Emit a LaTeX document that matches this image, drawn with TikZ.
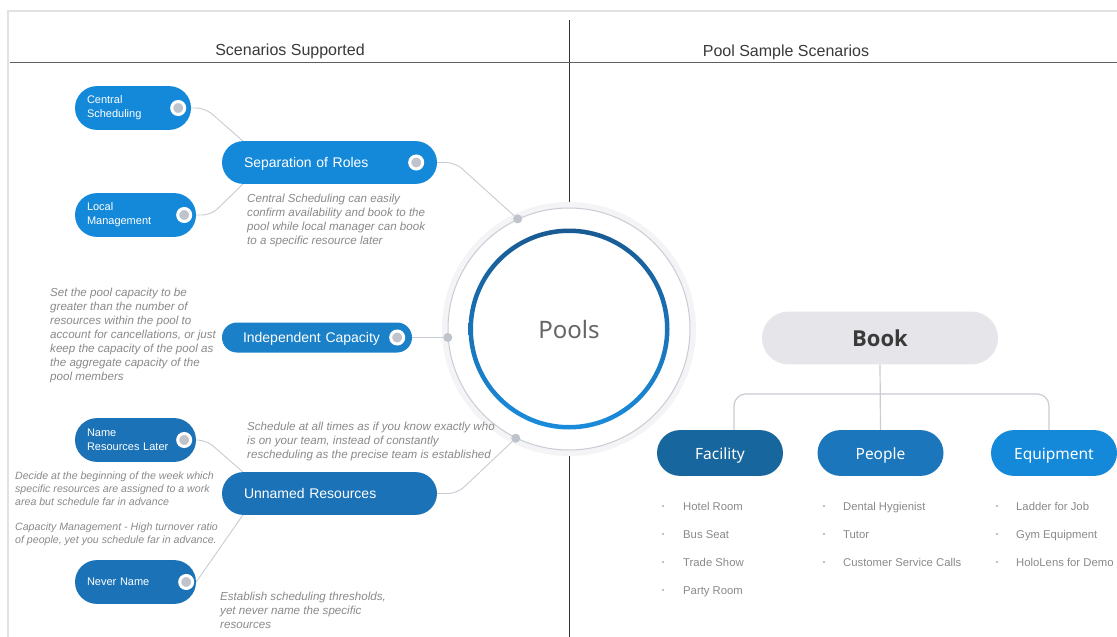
\documentclass[tikz,border=0pt]{standalone}
\usepackage{fontspec}
\setmainfont{Liberation Sans}
\newfontfamily\uifont{Noto Sans}
\newfontfamily\bookfont{Open Sans}
\usetikzlibrary{backgrounds}
\definecolor{brightblue}{HTML}{1589D9}
\definecolor{midblue}{HTML}{1A80C8}
\definecolor{deepblue}{HTML}{1B72B7}
\definecolor{darkblue}{HTML}{18669E}
\definecolor{peopleblue}{HTML}{1B76BB}
\definecolor{ringtop}{HTML}{195A92}
\definecolor{ringbottom}{HTML}{1A8CDC}
\definecolor{linkgray}{HTML}{C8CCD3}
\definecolor{dotgray}{HTML}{BFC3CB}
\definecolor{notegray}{HTML}{8A8A8A}
\definecolor{bookgray}{HTML}{E6E6EA}
\definecolor{framegray}{HTML}{E2E2E2}
\definecolor{glowgray}{HTML}{F4F4F7}
\definecolor{titlegray}{HTML}{3A3A3A}
\begin{document}
\begin{tikzpicture}[x=1pt, y=-1pt,
  pill/.style={rectangle, rounded corners=#1, minimum height=2*#1, inner ysep=0pt, text=white, align=left},
  small pill/.style={pill=21.9pt, inner xsep=12pt, font=\fontsize{11}{14}\selectfont},
  big pill/.style={pill=21.4pt, inner xsep=22pt, text width=171pt, text height=11pt, text depth=1pt, font=\fontsize{14}{17}\selectfont},
  cat pill/.style={pill=22.9pt, minimum width=126pt, align=center, text height=13pt, text depth=1pt, font=\uifont\fontsize{15.5}{18}\selectfont},
  knob/.style={circle, fill=dotgray, draw=white, line width=3pt, minimum size=13pt, inner sep=0pt},
  dot/.style={circle, fill=dotgray, minimum size=9pt, inner sep=0pt},
  link/.style={linkgray, line width=0.9pt, rounded corners=9pt},
  note/.style={anchor=north west, inner sep=0pt, align=left, text=notegray, font=\fontsize{11.6}{14}\selectfont\itshape},
  small note/.style={note, font=\fontsize{10.6}{13}\selectfont\itshape},
  item/.style={anchor=base west, inner sep=0pt, text=notegray, font=\fontsize{11.3}{14}\selectfont}]
\useasboundingbox (0,0) rectangle (1117,637);

% frame and headers
\draw[framegray, line width=2pt] (8,637) -- (8,11) -- (1117,11);
\draw[gray!75!black, line width=1.3pt] (10,62.5) -- (1117,62.5);
\node[text=titlegray, font=\fontsize{16}{19}\selectfont] (scen) at (290,51) {Scenarios Supported};
\node[text=titlegray, font=\fontsize{16}{19}\selectfont] (sample) at (786,52) {Pool Sample Scenarios};

% centre circle
\node[circle, minimum size=242pt, inner sep=0pt, draw=linkgray, line width=1pt, fill=white,
  text=gray!80!black, font=\uifont\fontsize{24}{28}\selectfont] (pools) at (569,329) {Pools};
\shade[top color=ringtop, bottom color=ringbottom, even odd rule]
  (pools.center) circle[radius=100.5pt] (pools.center) circle[radius=96pt];
\node[dot] (d1) at (pools.115) {};
\node[dot] (d2) at (pools.184) {};
\node[dot] (d3) at (pools.244) {};

% scenario pills
\node[big pill, fill=brightblue] (roles) at (329.5,162.5) {Separation of Roles};
\node[big pill, fill=midblue, pill=15pt, text width=148pt, inner xsep=21pt] (capacity) at (317,337.5) {Independent Capacity};
\node[big pill, fill=deepblue] (unnamed) at (329.5,493.5) {Unnamed Resources};
\node[small pill, fill=brightblue, text width=92pt] (central) at (133,108) {Central\\Scheduling};
\node[small pill, fill=brightblue, text width=97pt] (local) at (135.5,215) {Local\\Management};
\node[small pill, fill=deepblue, text width=97pt] (later) at (135.5,440) {Name\\Resources Later};
\node[small pill, fill=deepblue, text width=97pt] (never) at (135.5,582) {Never Name};
\node[knob] (k1) at ([xshift=-21pt]roles.east) {};
\node[knob] (k2) at ([xshift=-15pt]capacity.east) {};
\node[knob] (k3) at ([xshift=-13pt]central.east) {};
\node[knob] (k4) at ([xshift=-12pt]local.east) {};
\node[knob] (k5) at ([xshift=-12pt]later.east) {};
\node[knob] (k6) at ([xshift=-10pt]never.east) {};

% notes
\node[note] (n1) at (247,194) {Central Scheduling can easily\\confirm availability and book to the\\pool while local manager can book\\to a specific resource later};
\node[note] (n2) at (50,288) {Set the pool capacity to be\\greater than the number of\\resources within the pool to\\account for cancellations, or just\\keep the capacity of the pool as\\the aggregate capacity of the\\pool members};
\node[note] (n3) at (247,422) {Schedule at all times as if you know exactly who\\is on your team, instead of constantly\\rescheduling as the precise team is established};
\node[small note] (n4) at (15,472) {Decide at the beginning of the week which\\specific resources are assigned to a work\\area but schedule far in advance};
\node[small note] (n5) at (15,523) {Capacity Management - High turnover ratio\\of people, yet you schedule far in advance.};
\node[note] (n6) at (220,592) {Establish scheduling thresholds,\\yet never name the specific\\resources};

% book tree
\node[pill=26.4pt, minimum width=236pt, fill=bookgray, text=titlegray, align=center, text height=16pt, text depth=0pt,
  font=\bookfont\bfseries\fontsize{22}{26}\selectfont] (book) at (880,338) {Book};
\node[cat pill, fill=darkblue] (facility) at (720,453) {Facility};
\node[cat pill, fill=peopleblue] (people) at (880.5,453) {People};
\node[cat pill, fill=brightblue] (equipment) at (1054,453) {Equipment};
\foreach \entry [count=\i] in {Hotel Room, Bus Seat, Trade Show, Party Room} {
  \fill[notegray!70] (663,478+28*\i) circle[radius=1.2pt];
  \node[item] (fac\i) at (683,482+28*\i) {\entry};
}
\foreach \entry [count=\i] in {Dental Hygienist, Tutor, Customer Service Calls} {
  \fill[notegray!70] (824,478+28*\i) circle[radius=1.2pt];
  \node[item] (peo\i) at (843,482+28*\i) {\entry};
}
\foreach \entry [count=\i] in {Ladder for Job, Gym Equipment, HoloLens for Demo} {
  \fill[notegray!70] (997,478+28*\i) circle[radius=1.2pt];
  \node[item] (equ\i) at (1016,482+28*\i) {\entry};
}

\begin{scope}[on background layer]
\fill[white] (0,0) rectangle (1117,637);
\draw[black!80, line width=1pt] (569,20) -- (569,637);
\fill[glowgray] (pools.center) circle[radius=127pt];
% connectors
\draw[link] (central.east) -- ++(14,0) -- ([xshift=21pt]roles.north west);
\draw[link] (local.east) -- ++(15,0) -- ([xshift=21pt]roles.south west);
\draw[link] (roles.east) -- ++(18,0) -- (d1);
\draw[link] (capacity.east) -- (d2);
\draw[link] (unnamed.east) -- ++(20,0) -- (d3);
\draw[link] (later.east) -- ++(10,0) -- ([xshift=21pt]unnamed.north west);
\draw[link] (never.east) -- ([xshift=21pt]unnamed.south west);
\draw[link, line width=1.2pt] (book.south) -- (people.north);
\draw[link, line width=1.2pt, rounded corners=12pt] ([xshift=14pt]facility.north) -- ++(0,-36) -| ([xshift=-5pt]equipment.north);
\end{scope}
\end{tikzpicture}
\end{document}
